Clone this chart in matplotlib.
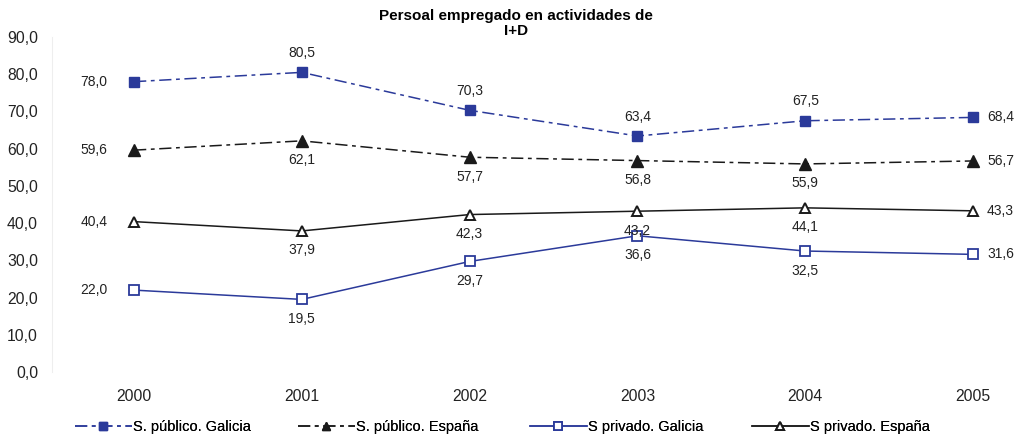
import numpy as np
import matplotlib.pyplot as plt
from matplotlib import font_manager as fm

# keep the narrow Liberation variant out so the regular one is used
fm.fontManager.ttflist = [f for f in fm.fontManager.ttflist if 'Narrow' not in f.fname]
plt.rcParams['font.family'] = ['Liberation Sans', 'DejaVu Sans']

years = ['2000', '2001', '2002', '2003', '2004', '2005']
pub_galicia = [78.0, 80.5, 70.3, 63.4, 67.5, 68.4]
pub_espana = [59.6, 62.1, 57.7, 56.8, 55.9, 56.7]
priv_galicia = [22.0, 19.5, 29.7, 36.6, 32.5, 31.6]
priv_espana = [40.4, 37.9, 42.3, 43.2, 44.1, 43.3]

# label position per point: 'l' left, 'a' above, 'b' below, 'r' right
pos_pub_galicia = ['l', 'a', 'a', 'a', 'a', 'r']
pos_pub_espana = ['l', 'b', 'b', 'b', 'b', 'r']
pos_priv_galicia = ['l', 'b', 'b', 'b', 'b', 'r']
pos_priv_espana = ['l', 'b', 'b', 'b', 'b', 'r']

blue = '#2b3a9a'
dark = '#1a1a1a'
txt = '#222222'
x = np.arange(len(years))

fig = plt.figure(figsize=(10.18, 4.34), dpi=100)
ax = fig.add_axes([52/1018, 62/434, (1015-52)/1018, (372-37)/434])

lines = []
lines += ax.plot(x, pub_galicia, color=blue, lw=1.1, dashes=[8, 3, 2.5, 3], marker='s', ms=7,
                 mfc=blue, mec=blue, label='S. público. Galicia')
lines += ax.plot(x, pub_espana, color=dark, lw=1.1, dashes=[8, 3, 2.5, 3], marker='^', ms=8,
                 mfc=dark, mec=dark, label='S. público. España')
lines += ax.plot(x, priv_galicia, color=blue, lw=1.1, marker='s', ms=6.5, mfc='white', mec=blue,
                 mew=1.3, label='S privado. Galicia')
lines += ax.plot(x, priv_espana, color=dark, lw=1.1, marker='^', ms=7.5, mfc='white',
                 mec=dark, mew=1.4, label='S privado. España')

def fmt(v):
    return f'{v:.1f}'.replace('.', ',')

offsets = {'l': (-19, 0, 'right', 'center'), 'r': (10, 0, 'left', 'center'),
           'a': (0, 9, 'center', 'bottom'), 'b': (0, -9, 'center', 'top')}
for vals, poss in [(pub_galicia, pos_pub_galicia), (pub_espana, pos_pub_espana),
                   (priv_galicia, pos_priv_galicia), (priv_espana, pos_priv_espana)]:
    for xi, v, p in zip(x, vals, poss):
        dx, dy, ha, va = offsets[p]
        ax.annotate(fmt(v), (xi, v), xytext=(dx, dy), textcoords='offset points',
                    ha=ha, va=va, fontsize=10, color=txt)

ax.set_xlim(-0.489, 5.25)
ax.set_ylim(0, 90)
ax.set_yticks(np.arange(0, 91, 10))
ax.set_yticklabels([fmt(v) for v in np.arange(0, 91, 10)], fontsize=11.3, color=txt)
ax.set_xticks(x)
ax.set_xticklabels(years, fontsize=11.3, color=txt)
ax.tick_params(axis='both', length=0)
ax.tick_params(axis='y', pad=10)
ax.tick_params(axis='x', pad=12)
for s in ['top', 'right', 'bottom']:
    ax.spines[s].set_visible(False)
ax.spines['left'].set_color('#eeeeee')

# title in two lines, as in the original
fig.text(0.507, 1 - 16 / 434, 'Persoal empregado en actividades de', ha='center', va='center',
         fontsize=11, fontweight='bold')
fig.text(0.507, 1 - 31 / 434, 'I+D', ha='center', va='center', fontsize=11, fontweight='bold')

# one legend box per series, spaced like the original
leg_x = [75, 298, 530, 752]
for ln, lx in zip(lines, leg_x):
    leg = fig.legend([ln], [ln.get_label()], loc='center left',
                     bbox_to_anchor=(lx / 1018, 1 - 427 / 434), frameon=False,
                     fontsize=10.5, handlelength=3.9, handletextpad=0.1,
                     borderpad=0, borderaxespad=0, markerscale=0.8)
    fig.add_artist(leg)

fig.savefig('out.png', dpi=100)
